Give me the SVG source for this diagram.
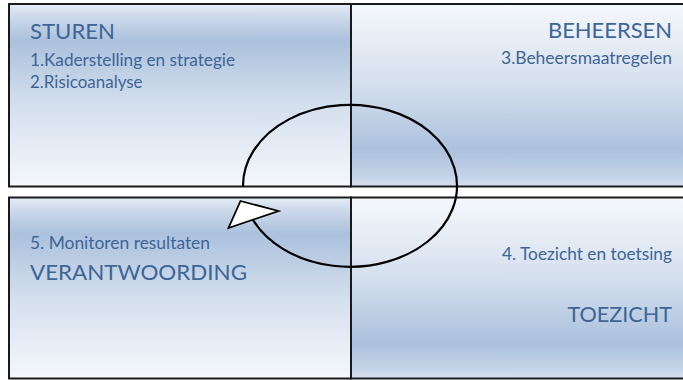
<svg xmlns="http://www.w3.org/2000/svg" width="683" height="380" viewBox="0 0 683 380">
  <defs>
    <!-- band near the top, fading to white below -->
    <linearGradient id="gradTop" x1="0" y1="0" x2="0" y2="1">
      <stop offset="0" stop-color="#e8eef7"/>
      <stop offset="0.06" stop-color="#cfdbeb"/>
      <stop offset="0.2" stop-color="#abc1dd"/>
      <stop offset="0.55" stop-color="#d4dfed"/>
      <stop offset="1" stop-color="#f5f8fc"/>
    </linearGradient>
    <!-- white at the top, band near the bottom -->
    <linearGradient id="gradBottom" x1="0" y1="0" x2="0" y2="1">
      <stop offset="0" stop-color="#f5f8fc"/>
      <stop offset="0.45" stop-color="#d4dfed"/>
      <stop offset="0.8" stop-color="#abc1dd"/>
      <stop offset="0.94" stop-color="#c4d3e7"/>
      <stop offset="1" stop-color="#d6e1ef"/>
    </linearGradient>
  </defs>
  <style>
    .box { stroke: #1a1a1a; stroke-width: 2; }
    .top { fill: url(#gradTop); }
    .bot { fill: url(#gradBottom); }
    .head { font-family: Lato, "Open Sans", sans-serif; font-size: 21px; fill: #3d6596; }
    .item { font-family: Lato, "Open Sans", sans-serif; font-size: 16.5px; fill: #3d6596; }
    .end { text-anchor: end; }
    .cycle { fill: none; stroke: #000; stroke-width: 2.2; }
    .tip { fill: #fff; stroke: #000; stroke-width: 1.8; stroke-linejoin: miter; }
  </style>
  <rect width="683" height="380" fill="#fff"/>

  <g id="sturen">
    <rect class="box top" x="9" y="4" width="342" height="182.5"/>
    <text class="head" x="30" y="39" textLength="85" lengthAdjust="spacingAndGlyphs">STUREN</text>
    <text class="item" x="30" y="66" textLength="205" lengthAdjust="spacingAndGlyphs">1.Kaderstelling en strategie</text>
    <text class="item" x="30" y="87.5" textLength="112.5" lengthAdjust="spacingAndGlyphs">2.Risicoanalyse</text>
  </g>

  <g id="beheersen">
    <rect class="box bot" x="351" y="4" width="345" height="182.5"/>
    <text class="head end" x="672" y="37.5" textLength="124" lengthAdjust="spacingAndGlyphs">BEHEERSEN</text>
    <text class="item end" x="672" y="64" textLength="171" lengthAdjust="spacingAndGlyphs">3.Beheersmaatregelen</text>
  </g>

  <g id="verantwoording">
    <rect class="box top" x="9" y="197.5" width="342" height="181"/>
    <text class="item" x="30" y="249.3" textLength="180" lengthAdjust="spacingAndGlyphs">5. Monitoren resultaten</text>
    <text class="head" x="30" y="280" textLength="217" lengthAdjust="spacingAndGlyphs">VERANTWOORDING</text>
  </g>

  <g id="toezicht">
    <rect class="box bot" x="351" y="197.5" width="345" height="181"/>
    <text class="item end" x="672" y="260" textLength="170" lengthAdjust="spacingAndGlyphs">4. Toezicht en toetsing</text>
    <text class="head end" x="672" y="321.5" textLength="104.5" lengthAdjust="spacingAndGlyphs">TOEZICHT</text>
  </g>

  <g id="connectors">
    <path class="cycle" d="M 243 186.5 A 107 81 0 1 1 253 220"/>
    <polygon class="tip" points="240.5,201 278.5,211 228.5,228"/>
  </g>
</svg>
